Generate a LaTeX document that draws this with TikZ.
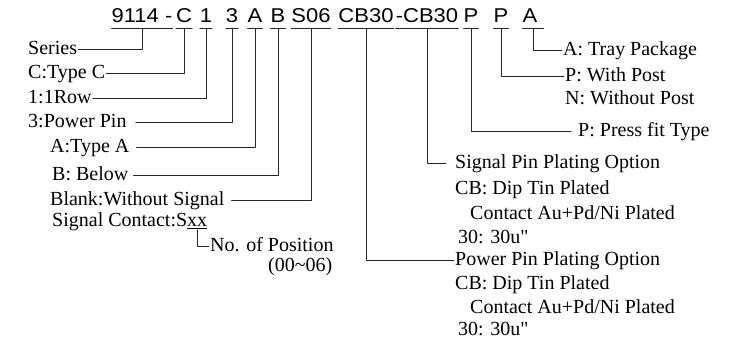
\documentclass[tikz,border=0pt]{standalone}
\usepackage{fontspec}
\setmainfont{Liberation Serif}
\newfontfamily\codefont{Liberation Sans}
\usepackage{tikz}

\newcommand{\codetxt}[1]{\scalebox{1.1}[1]{#1}}

\begin{document}
\begin{tikzpicture}[
						x=1pt, y=-1pt,
						line cap=round,
						line join=round,
						lbl/.style={font=\fontsize{20}{24}\selectfont, anchor=west, inner sep=1pt,
							text height=14pt, text depth=3pt},
						code/.style={font=\codefont\fontsize{20}{24}\selectfont, anchor=base,
							inner xsep=0pt, inner ysep=0pt, text depth=5pt},
						link/.style={line width=0.7pt, draw=black!85}
						]
						
						\useasboundingbox (0,0) rectangle (736,340);
						
						% part number
						\foreach \x/\n/\t in {
							142/c9114/{9114 -}, 184/cC/C, 206/cone/1, 232/cthree/3,
							255/cA/A, 278/cB/B, 311/cS/S06, 366/cpow/CB30,
							427/csig/-CB30, 471/cP/P, 501/cpost/P, 533/cpack/A
						}
						\node[code] (\n) at (\x,23) {\codetxt{\t}};
						
						\foreach \n in {c9114,cC,cone,cthree,cA,cB,cS,cpow,csig,cP,cpost,cpack}
						\draw[link] (\n.south west) -- (\n.south east);
						
						% left labels
						\node[lbl] (series) at (27,49) {Series};
						\node[lbl] (typec) at (27,73) {C:Type C};
						\node[lbl] (row) at (27,98) {1:1Row};
						\node[lbl] (power) at (27,122) {3:Power Pin};
						\node[lbl] (typea) at (49,147) {A:Type A};
						\node[lbl] (below) at (51,175) {B: Below};
						\node[lbl] (blank) at (49,200) {Blank:Without Signal};
						\node[lbl] (contact) at (51,221) {Signal Contact:S\underline{xx}};
						\node[lbl] (nopos) at (209,246) {No. of Position};
						\node[lbl] (range) at (267,266) {(00\textasciitilde06)};
						\coordinate (xx) at (197,230);
						
						% right labels
						\node[lbl] (tray) at (562,50) {A: Tray Package};
						\node[lbl] (withpost) at (564,76) {P: With Post};
						\node[lbl] (without) at (564,99) {N: Without Post};
						\node[lbl] (press) at (577,131) {P: Press fit Type};
						
						\node[lbl] (sigopt) at (454,163) {Signal Pin Plating Option};
						\node[lbl] (sigcb) at (454,189) {CB: Dip Tin Plated};
						\node[lbl] (sigau) at (469,214) {Contact Au+Pd/Ni Plated};
						\node[lbl] (sigthirty) at (457,238) {30: 30u\textquotedbl};
						
						\node[lbl] (powopt) at (454,260) {Power Pin Plating Option};
						\node[lbl] (powcb) at (454,284) {CB: Dip Tin Plated};
						\node[lbl] (powau) at (469,308) {Contact Au+Pd/Ni Plated};
						\node[lbl] (powthirty) at (457,330) {30: 30u\textquotedbl};
						
						% connectors
						\draw[link] (c9114.south) |- (series.east);
						\draw[link] (cC.south) |- (typec.east);
						\draw[link] (cone.south) |- (row.east);
						\draw[link] (cthree.south) |- ([xshift=8pt]power.east);
						\draw[link] (cA.south) |- ([xshift=6pt]typea.east);
						\draw[link] (cB.south) |- ([xshift=4pt]below.east);
						\draw[link] (cS.south) |- ([xshift=6pt]blank.east);
						\draw[link] (xx) |- (nopos.west);
						\draw[link] (cpow.south) |- (powopt.west);
						\draw[link] (csig.south) |- ([xshift=-8pt]sigopt.west);
						\draw[link] (cP.south) |- ([xshift=-6pt]press.west);
						\draw[link] (cpost.south) |- (withpost.west);
						\draw[link] (cpack.south) |- (tray.west);
						
					\end{tikzpicture}
\end{document}
